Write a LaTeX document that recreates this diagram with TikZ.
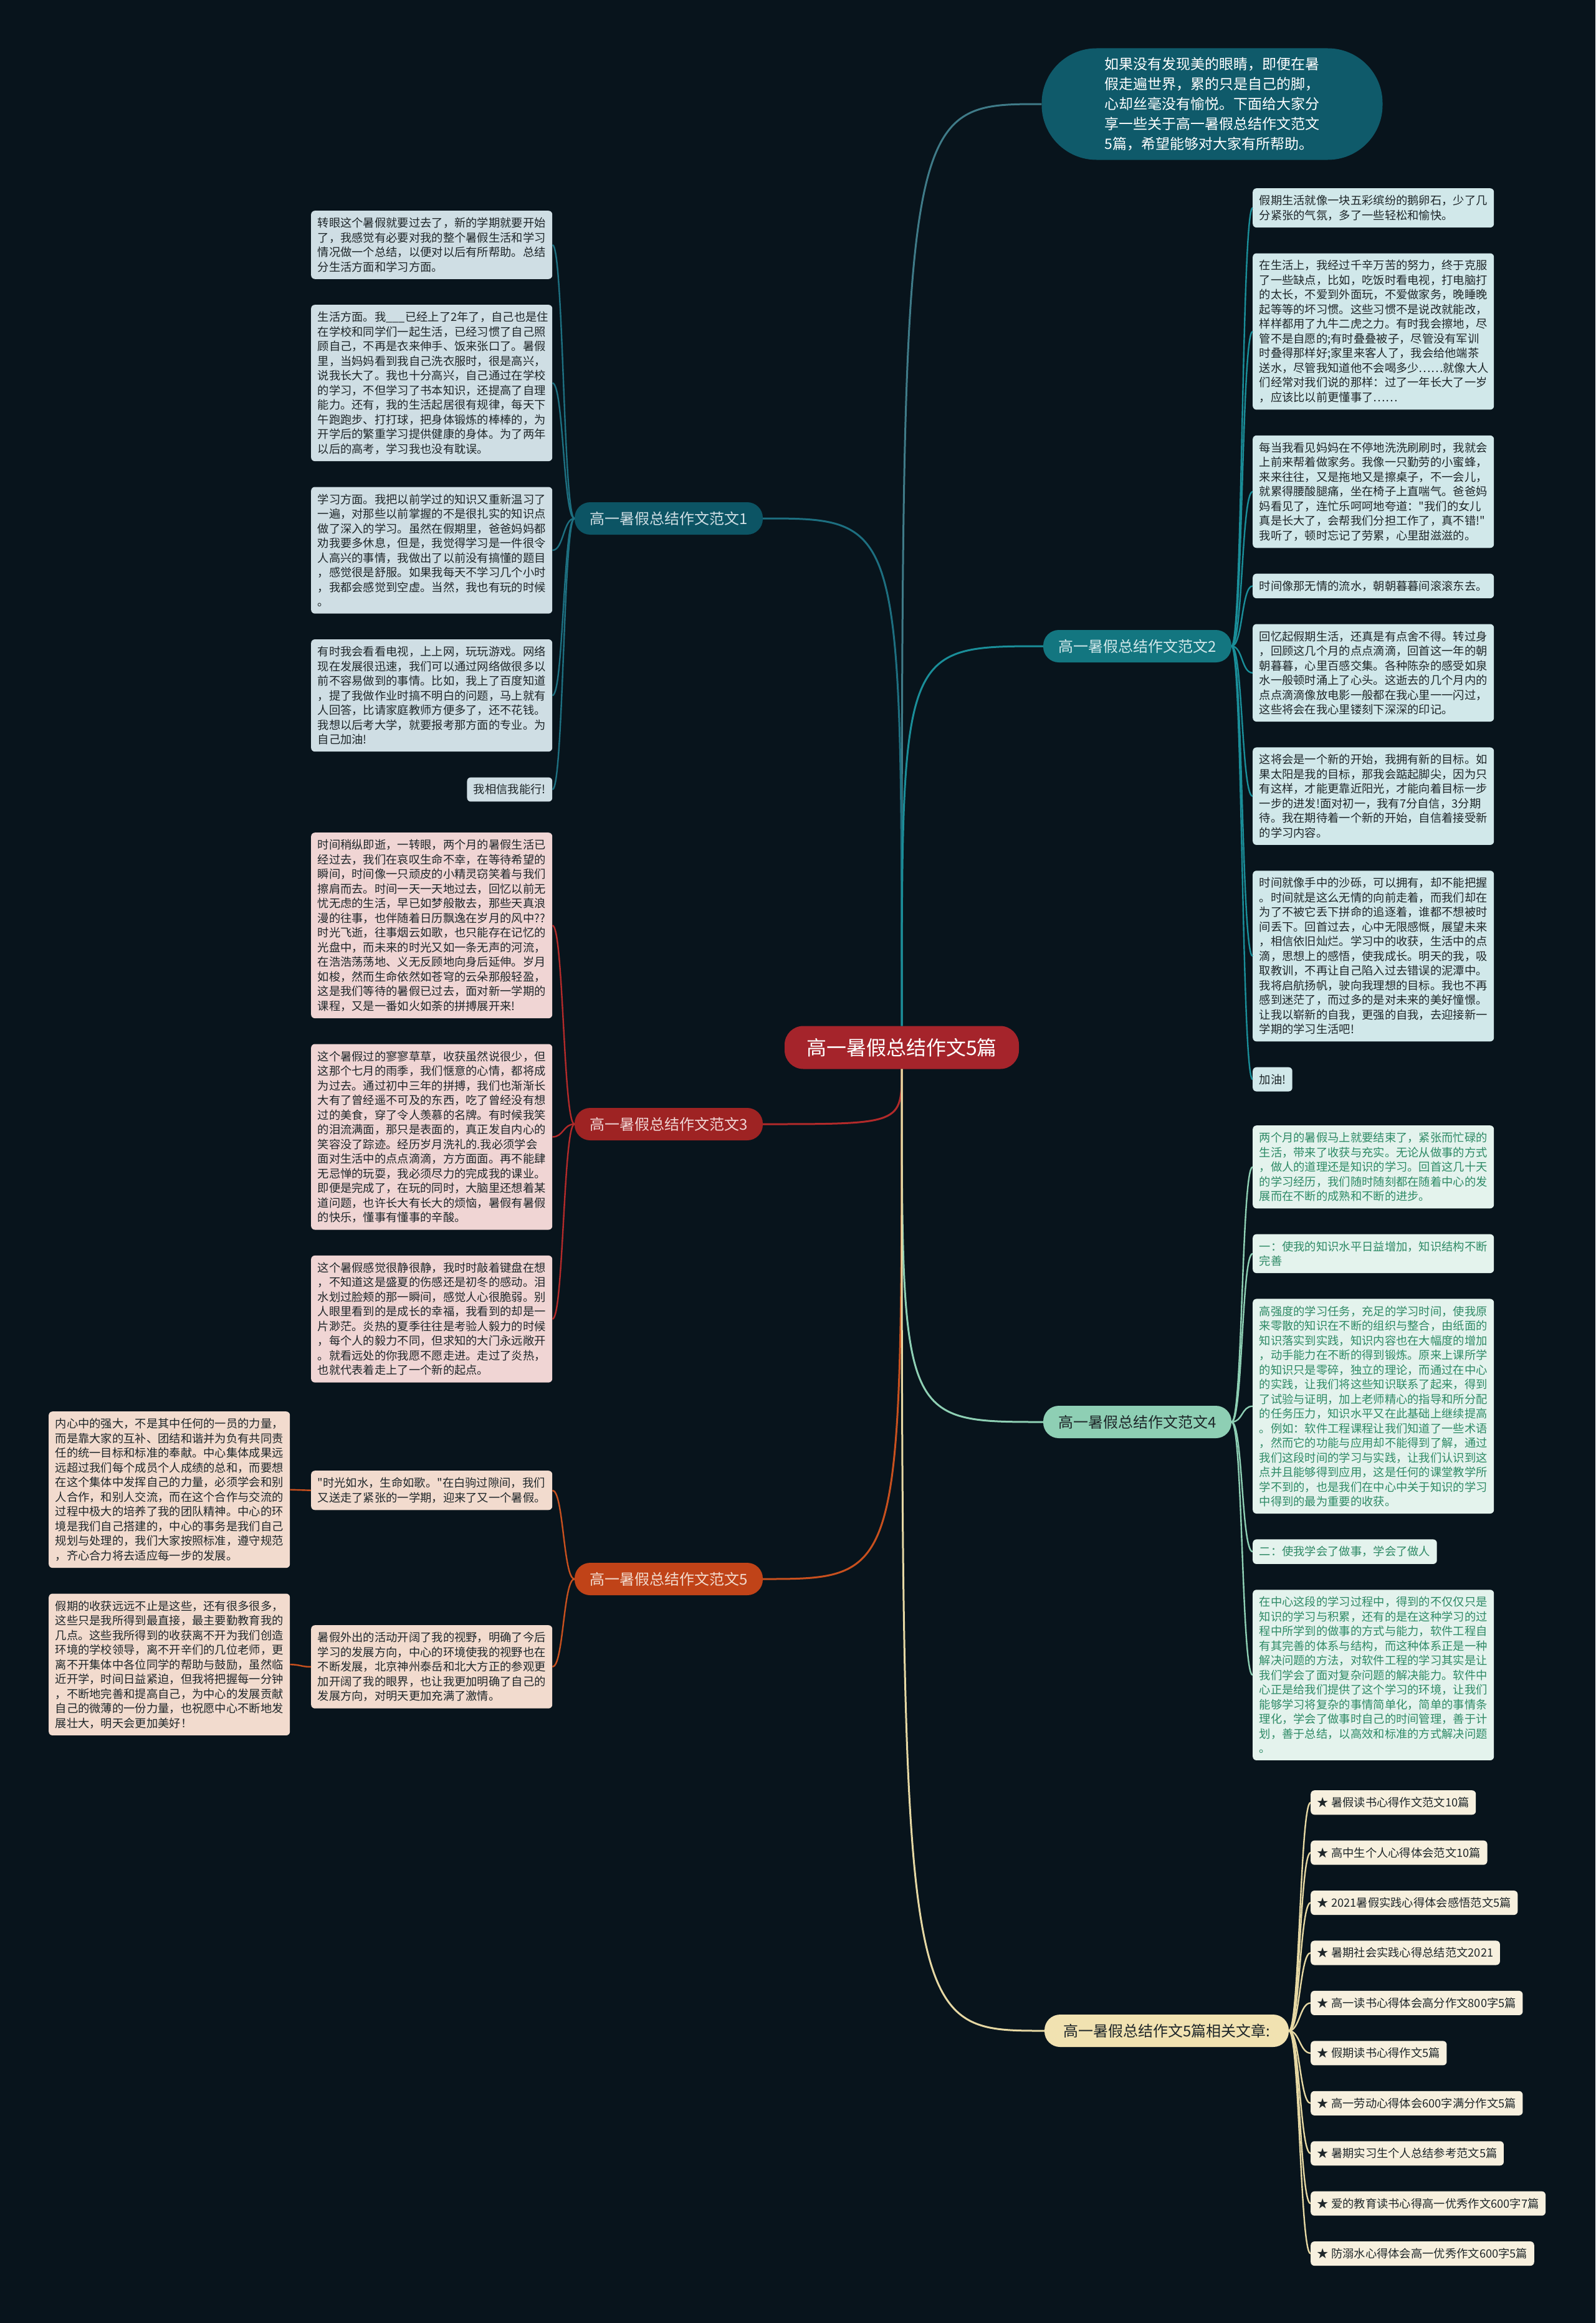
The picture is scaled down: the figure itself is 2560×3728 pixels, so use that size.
\documentclass[tikz,border=0pt]{standalone}
\usepackage{fontspec}
\newfontfamily\cjkmain{Noto Sans CJK SC}
\usepackage{xcolor}
\usetikzlibrary{positioning}
\definecolor{mapbg}{HTML}{08141C}
\definecolor{rootred}{HTML}{A5242B}
\definecolor{introteal}{HTML}{0F5A6A}
\definecolor{tealone}{HTML}{0C5464}
\definecolor{tealtwo}{HTML}{137680}
\definecolor{redthree}{HTML}{9E2323}
\definecolor{mintfour}{HTML}{8ECFB4}
\definecolor{orangefive}{HTML}{C04318}
\definecolor{sandrel}{HTML}{F1E2B1}
\definecolor{paleone}{HTML}{CFDEE4}
\definecolor{paletwo}{HTML}{D1E8EA}
\definecolor{palethree}{HTML}{F0D5D4}
\definecolor{palefour}{HTML}{E4F3ED}
\definecolor{palefive}{HTML}{F2DBCE}
\definecolor{palerel}{HTML}{F7F0DE}
\definecolor{inkdark}{HTML}{1E2629}
\definecolor{inkgreen}{HTML}{2E8A66}
\definecolor{lineone}{HTML}{1D6F80}
\definecolor{linetwo}{HTML}{1A8E99}
\definecolor{linethree}{HTML}{B22A2A}
\definecolor{linefour}{HTML}{8ED0B4}
\definecolor{linefive}{HTML}{C8501E}
\definecolor{linerel}{HTML}{E6D8A3}
\tikzset{
  mmroot/.style    = {rectangle, rounded corners=30pt, fill=rootred, text=white,
                      font=\cjkmain\fontsize{32}{36}\selectfont, minimum width=376pt,
                      minimum height=69pt, inner xsep=30pt},
  mmintro/.style   = {rectangle, rounded corners=88pt, fill=introteal, text=white,
                      align=left, font=\cjkmain\fontsize{23}{32}\selectfont,
                      minimum width=547pt, minimum height=179pt},
  mmbranch/.style  = {rectangle, rounded corners=25pt, minimum width=302pt,
                      minimum height=52pt, inner xsep=20pt,
                      font=\cjkmain\fontsize{24}{28}\selectfont},
  mmleaf/.style    = {rectangle, rounded corners=6pt, align=left,
                      inner xsep=10.5pt, inner ysep=11pt,
                      font=\cjkmain\fontsize{18.3}{23.5}\selectfont},
  fullw/.style     = {text width=366pt},
  leafone/.style   = {mmleaf, fill=paleone, text=inkdark},
  leaftwo/.style   = {mmleaf, fill=paletwo, text=inkdark},
  leafthree/.style = {mmleaf, fill=palethree, text=inkdark},
  leaffour/.style  = {mmleaf, fill=palefour, text=inkgreen},
  leaffive/.style  = {mmleaf, fill=palefive, text=inkdark},
  leafrel/.style   = {mmleaf, fill=palerel, text=inkdark},
  mmlink/.style    = {line width=2.4pt},
  rootlink/.style  = {line width=3pt},
}

\begin{document}
\begin{tikzpicture}[x=1pt, y=-1pt, node distance=41pt]
  \fill[mapbg] (0,0) rectangle (2560,3728);
  \useasboundingbox (0,0) rectangle (2560,3728);

  \node[mmroot] (root) at (1447,1681) {高一暑假总结作文5篇};
  \node[mmintro] (intro) at (1945,167) {如果没有发现美的眼睛，即便在暑\\
        假走遍世界，累的只是自己的脚，\\
        心却丝毫没有愉悦。下面给大家分\\
        享一些关于高一暑假总结作文范文\\
        5篇，希望能够对大家有所帮助。};

  \node[mmbranch, fill=tealone, text=paleone] (b1) at (1073,832) {高一暑假总结作文范文1};
  \node[mmbranch, fill=tealtwo, text=paletwo] (b2) at (1825,1037) {高一暑假总结作文范文2};
  \node[mmbranch, fill=redthree, text=palethree] (b3) at (1073,1804) {高一暑假总结作文范文3};
  \node[mmbranch, fill=mintfour, text=inkdark] (b4) at (1825,2282) {高一暑假总结作文范文4};
  \node[mmbranch, fill=orangefive, text=palefive] (b5) at (1073,2534) {高一暑假总结作文范文5};
  \node[mmbranch, fill=sandrel, text=inkdark, minimum width=392pt] (rel) at (1872,3259)
        {高一暑假总结作文5篇相关文章:};

  % 范文1
  \node[leafone, fullw, anchor=north west] (f1a) at (499,338) {转眼这个暑假就要过去了，新的学期就要开始\\
        了，我感觉有必要对我的整个暑假生活和学习\\
        情况做一个总结，以便对以后有所帮助。总结\\
        分生活方面和学习方面。};
  \node[leafone, fullw, below=of f1a.south west, anchor=north west] (f1b)
        {生活方面。我\_\_\_已经上了2年了，自己也是住\\
        在学校和同学们一起生活，已经习惯了自己照\\
        顾自己，不再是衣来伸手、饭来张口了。暑假\\
        里，当妈妈看到我自己洗衣服时，很是高兴，\\
        说我长大了。我也十分高兴，自己通过在学校\\
        的学习，不但学习了书本知识，还提高了自理\\
        能力。还有，我的生活起居很有规律，每天下\\
        午跑跑步、打打球，把身体锻炼的棒棒的，为\\
        开学后的繁重学习提供健康的身体。为了两年\\
        以后的高考，学习我也没有耽误。};
  \node[leafone, fullw, below=of f1b.south west, anchor=north west] (f1c)
        {学习方面。我把以前学过的知识又重新温习了\\
        一遍，对那些以前掌握的不是很扎实的知识点\\
        做了深入的学习。虽然在假期里，爸爸妈妈都\\
        劝我要多休息，但是，我觉得学习是一件很令\\
        人高兴的事情，我做出了以前没有搞懂的题目\\
        ，感觉很是舒服。如果我每天不学习几个小时\\
        ，我都会感觉到空虚。当然，我也有玩的时候\\
        。};
  \node[leafone, fullw, below=of f1c.south west, anchor=north west] (f1d)
        {有时我会看看电视，上上网，玩玩游戏。网络\\
        现在发展很迅速，我们可以通过网络做很多以\\
        前不容易做到的事情。比如，我上了百度知道\\
        ，提了我做作业时搞不明白的问题，马上就有\\
        人回答，比请家庭教师方便多了，还不花钱。\\
        我想以后考大学，就要报考那方面的专业。为\\
        自己加油!};
  \node[leafone, below=of f1d.south east, anchor=north east] (f1e) {我相信我能行!};

  % 范文2
  \node[leaftwo, fullw, anchor=north west] (f2a) at (2010,302)
        {假期生活就像一块五彩缤纷的鹅卵石，少了几\\
        分紧张的气氛，多了一些轻松和愉快。};
  \node[leaftwo, fullw, below=of f2a.south west, anchor=north west] (f2b)
        {在生活上，我经过千辛万苦的努力，终于克服\\
        了一些缺点，比如，吃饭时看电视，打电脑打\\
        的太长，不爱到外面玩，不爱做家务，晚睡晚\\
        起等等的坏习惯。这些习惯不是说改就能改，\\
        样样都用了九牛二虎之力。有时我会擦地，尽\\
        管不是自愿的;有时叠叠被子，尽管没有军训\\
        时叠得那样好;家里来客人了，我会给他端茶\\
        送水，尽管我知道他不会喝多少……就像大人\\
        们经常对我们说的那样：过了一年长大了一岁\\
        ，应该比以前更懂事了……};
  \node[leaftwo, fullw, below=of f2b.south west, anchor=north west] (f2c)
        {每当我看见妈妈在不停地洗洗刷刷时，我就会\\
        上前来帮着做家务。我像一只勤劳的小蜜蜂，\\
        来来往往，又是拖地又是擦桌子，不一会儿，\\
        就累得腰酸腿痛，坐在椅子上直喘气。爸爸妈\\
        妈看见了，连忙乐呵呵地夸道："我们的女儿\\
        真是长大了，会帮我们分担工作了，真不错!"\\
        我听了，顿时忘记了劳累，心里甜滋滋的。};
  \node[leaftwo, fullw, below=of f2c.south west, anchor=north west] (f2d)
        {时间像那无情的流水，朝朝暮暮间滚滚东去。};
  \node[leaftwo, fullw, below=of f2d.south west, anchor=north west] (f2e)
        {回忆起假期生活，还真是有点舍不得。转过身\\
        ，回顾这几个月的点点滴滴，回首这一年的朝\\
        朝暮暮，心里百感交集。各种陈杂的感受如泉\\
        水一般顿时涌上了心头。这逝去的几个月内的\\
        点点滴滴像放电影一般都在我心里一一闪过，\\
        这些将会在我心里镂刻下深深的印记。};
  \node[leaftwo, fullw, below=of f2e.south west, anchor=north west] (f2f)
        {这将会是一个新的开始，我拥有新的目标。如\\
        果太阳是我的目标，那我会踮起脚尖，因为只\\
        有这样，才能更靠近阳光，才能向着目标一步\\
        一步的进发!面对初一，我有7分自信，3分期\\
        待。我在期待着一个新的开始，自信着接受新\\
        的学习内容。};
  \node[leaftwo, fullw, below=of f2f.south west, anchor=north west] (f2g)
        {时间就像手中的沙砾，可以拥有，却不能把握\\
        。时间就是这么无情的向前走着，而我们却在\\
        为了不被它丢下拼命的追逐着，谁都不想被时\\
        间丢下。回首过去，心中无限感慨，展望未来\\
        ，相信依旧灿烂。学习中的收获，生活中的点\\
        滴，思想上的感悟，使我成长。明天的我，吸\\
        取教训，不再让自己陷入过去错误的泥潭中。\\
        我将启航扬帆，驶向我理想的目标。我也不再\\
        感到迷茫了，而过多的是对未来的美好憧憬。\\
        让我以崭新的自我，更强的自我，去迎接新一\\
        学期的学习生活吧!};
  \node[leaftwo, below=of f2g.south west, anchor=north west] (f2h) {加油!};

  % 范文3
  \node[leafthree, fullw, anchor=north west] (f3a) at (499,1336)
        {时间稍纵即逝，一转眼，两个月的暑假生活已\\
        经过去，我们在哀叹生命不幸，在等待希望的\\
        瞬间，时间像一只顽皮的小精灵窃笑着与我们\\
        擦肩而去。时间一天一天地过去，回忆以前无\\
        忧无虑的生活，早已如梦般散去，那些天真浪\\
        漫的往事，也伴随着日历飘逸在岁月的风中??\\
        时光飞逝，往事烟云如歌，也只能存在记忆的\\
        光盘中，而未来的时光又如一条无声的河流，\\
        在浩浩荡荡地、义无反顾地向身后延伸。岁月\\
        如梭，然而生命依然如苍穹的云朵那般轻盈，\\
        这是我们等待的暑假已过去，面对新一学期的\\
        课程，又是一番如火如荼的拼搏展开来!};
  \node[leafthree, fullw, below=of f3a.south west, anchor=north west] (f3b)
        {这个暑假过的寥寥草草，收获虽然说很少，但\\
        这那个七月的雨季，我们惬意的心情，都将成\\
        为过去。通过初中三年的拼搏，我们也渐渐长\\
        大有了曾经遥不可及的东西，吃了曾经没有想\\
        过的美食，穿了令人羡慕的名牌。有时候我笑\\
        的泪流满面，那只是表面的，真正发自内心的\\
        笑容没了踪迹。经历岁月洗礼的.我必须学会\\
        面对生活中的点点滴滴，方方面面。再不能肆\\
        无忌惮的玩耍，我必须尽力的完成我的课业。\\
        即便是完成了，在玩的同时，大脑里还想着某\\
        道问题，也许长大有长大的烦恼，暑假有暑假\\
        的快乐，懂事有懂事的辛酸。};
  \node[leafthree, fullw, below=of f3b.south west, anchor=north west] (f3c)
        {这个暑假感觉很静很静，我时时敲着键盘在想\\
        ，不知道这是盛夏的伤感还是初冬的感动。泪\\
        水划过脸颊的那一瞬间，感觉人心很脆弱。别\\
        人眼里看到的是成长的幸福，我看到的却是一\\
        片渺茫。炎热的夏季往往是考验人毅力的时候\\
        ，每个人的毅力不同，但求知的大门永远敞开\\
        。就看远处的你我愿不愿走进。走过了炎热，\\
        也就代表着走上了一个新的起点。};

  % 范文4
  \node[leaffour, fullw, anchor=north west] (f4a) at (2010,1806)
        {两个月的暑假马上就要结束了，紧张而忙碌的\\
        生活，带来了收获与充实。无论从做事的方式\\
        ，做人的道理还是知识的学习。回首这几十天\\
        的学习经历，我们随时随刻都在随着中心的发\\
        展而在不断的成熟和不断的进步。};
  \node[leaffour, fullw, below=of f4a.south west, anchor=north west] (f4b)
        {一：使我的知识水平日益增加，知识结构不断\\
        完善};
  \node[leaffour, fullw, below=of f4b.south west, anchor=north west] (f4c)
        {高强度的学习任务，充足的学习时间，使我原\\
        来零散的知识在不断的组织与整合，由纸面的\\
        知识落实到实践，知识内容也在大幅度的增加\\
        ，动手能力在不断的得到锻炼。原来上课所学\\
        的知识只是零碎，独立的理论，而通过在中心\\
        的实践，让我们将这些知识联系了起来，得到\\
        了试验与证明，加上老师精心的指导和所分配\\
        的任务压力，知识水平又在此基础上继续提高\\
        。例如：软件工程课程让我们知道了一些术语\\
        ，然而它的功能与应用却不能得到了解，通过\\
        我们这段时间的学习与实践，让我们认识到这\\
        点并且能够得到应用，这是任何的课堂教学所\\
        学不到的，也是我们在中心中关于知识的学习\\
        中得到的最为重要的收获。};
  \node[leaffour, below=of f4c.south west, anchor=north west] (f4d)
        {二：使我学会了做事，学会了做人};
  \node[leaffour, fullw, below=of f4d.south west, anchor=north west] (f4e)
        {在中心这段的学习过程中，得到的不仅仅只是\\
        知识的学习与积累，还有的是在这种学习的过\\
        程中所学到的做事的方式与能力，软件工程自\\
        有其完善的体系与结构，而这种体系正是一种\\
        解决问题的方法，对软件工程的学习其实是让\\
        我们学会了面对复杂问题的解决能力。软件中\\
        心正是给我们提供了这个学习的环境，让我们\\
        能够学习将复杂的事情简单化，简单的事情条\\
        理化，学会了做事时自己的时间管理，善于计\\
        划，善于总结，以高效和标准的方式解决问题\\
        。};

  % 范文5
  \node[leaffive, fullw, anchor=north west] (f5a) at (499,2360)
        {"时光如水，生命如歌。"在白驹过隙间，我们\\
        又送走了紧张的一学期，迎来了又一个暑假。};
  \node[leaffive, fullw, anchor=north west] (f5b) at (499,2608)
        {暑假外出的活动开阔了我的视野，明确了今后\\
        学习的发展方向，中心的环境使我的视野也在\\
        不断发展，北京神州泰岳和北大方正的参观更\\
        加开阔了我的眼界，也让我更加明确了自己的\\
        发展方向，对明天更加充满了激情。};
  \node[leaffive, fullw, anchor=north west] (f5c) at (78,2265)
        {内心中的强大，不是其中任何的一员的力量，\\
        而是靠大家的互补、团结和谐并为负有共同责\\
        任的统一目标和标准的奉献。中心集体成果远\\
        远超过我们每个成员个人成绩的总和，而要想\\
        在这个集体中发挥自己的力量，必须学会和别\\
        人合作，和别人交流，而在这个合作与交流的\\
        过程中极大的培养了我的团队精神。中心的环\\
        境是我们自己搭建的，中心的事务是我们自己\\
        规划与处理的，我们大家按照标准，遵守规范\\
        ，齐心合力将去适应每一步的发展。};
  \node[leaffive, fullw, below=of f5c.south west, anchor=north west] (f5d)
        {假期的收获远远不止是这些，还有很多很多，\\
        这些只是我所得到最直接，最主要勤教育我的\\
        几点。这些我所得到的收获离不开为我们创造\\
        环境的学校领导，离不开辛们的几位老师，更\\
        离不开集体中各位同学的帮助与鼓励，虽然临\\
        近开学，时间日益紧迫，但我将把握每一分钟\\
        ，不断地完善和提高自己，为中心的发展贡献\\
        自己的微薄的一份力量，也祝愿中心不断地发\\
        展壮大，明天会更加美好！};

  % 相关文章
  \node[leafrel, anchor=north west] (r1) at (2103,2873) {★ 暑假读书心得作文范文10篇};
  \node[leafrel, below=of r1.south west, anchor=north west] (r2) {★ 高中生个人心得体会范文10篇};
  \node[leafrel, below=of r2.south west, anchor=north west] (r3) {★ 2021暑假实践心得体会感悟范文5篇};
  \node[leafrel, below=of r3.south west, anchor=north west] (r4) {★ 暑期社会实践心得总结范文2021};
  \node[leafrel, below=of r4.south west, anchor=north west] (r5) {★ 高一读书心得体会高分作文800字5篇};
  \node[leafrel, below=of r5.south west, anchor=north west] (r6) {★ 假期读书心得作文5篇};
  \node[leafrel, below=of r6.south west, anchor=north west] (r7) {★ 高一劳动心得体会600字满分作文5篇};
  \node[leafrel, below=of r7.south west, anchor=north west] (r8) {★ 暑期实习生个人总结参考范文5篇};
  \node[leafrel, below=of r8.south west, anchor=north west] (r9) {★ 爱的教育读书心得高一优秀作文600字7篇};
  \node[leafrel, below=of r9.south west, anchor=north west] (r10) {★ 防溺水心得体会高一优秀作文600字5篇};

  % root to branches
  \draw[rootlink, introteal!80!white] (root.north) .. controls (root.north |- intro.west) .. (intro.west);
  \draw[rootlink, lineone] (root.north) .. controls (root.north |- b1.east) .. (b1.east);
  \draw[rootlink, linetwo] (root.north) .. controls (root.north |- b2.west) .. (b2.west);
  \draw[rootlink, linethree] (root.south) .. controls (root.south |- b3.east) .. (b3.east);
  \draw[rootlink, linefour] (root.south) .. controls (root.south |- b4.west) .. (b4.west);
  \draw[rootlink, linefive] (root.south) .. controls (root.south |- b5.east) .. (b5.east);
  \draw[rootlink, linerel] (root.south) .. controls (root.south |- rel.west) .. (rel.west);

  % branches to leaves
  \draw[mmlink, lineone] (b1.west) .. controls +(-18,0) and +(18,0) .. (f1a.east);
  \draw[mmlink, lineone] (b1.west) .. controls +(-18,0) and +(18,0) .. (f1b.east);
  \draw[mmlink, lineone] (b1.west) .. controls +(-18,0) and +(18,0) .. (f1c.east);
  \draw[mmlink, lineone] (b1.west) .. controls +(-18,0) and +(18,0) .. (f1d.east);
  \draw[mmlink, lineone] (b1.west) .. controls +(-18,0) and +(18,0) .. (f1e.east);

  \draw[mmlink, linetwo] (b2.east) .. controls +(18,0) and +(-18,0) .. (f2a.west);
  \draw[mmlink, linetwo] (b2.east) .. controls +(18,0) and +(-18,0) .. (f2b.west);
  \draw[mmlink, linetwo] (b2.east) .. controls +(18,0) and +(-18,0) .. (f2c.west);
  \draw[mmlink, linetwo] (b2.east) .. controls +(18,0) and +(-18,0) .. (f2d.west);
  \draw[mmlink, linetwo] (b2.east) .. controls +(18,0) and +(-18,0) .. (f2e.west);
  \draw[mmlink, linetwo] (b2.east) .. controls +(18,0) and +(-18,0) .. (f2f.west);
  \draw[mmlink, linetwo] (b2.east) .. controls +(18,0) and +(-18,0) .. (f2g.west);
  \draw[mmlink, linetwo] (b2.east) .. controls +(18,0) and +(-18,0) .. (f2h.west);

  \draw[mmlink, linethree] (b3.west) .. controls +(-18,0) and +(18,0) .. (f3a.east);
  \draw[mmlink, linethree] (b3.west) .. controls +(-18,0) and +(18,0) .. (f3b.east);
  \draw[mmlink, linethree] (b3.west) .. controls +(-18,0) and +(18,0) .. (f3c.east);

  \draw[mmlink, linefour] (b4.east) .. controls +(18,0) and +(-18,0) .. (f4a.west);
  \draw[mmlink, linefour] (b4.east) .. controls +(18,0) and +(-18,0) .. (f4b.west);
  \draw[mmlink, linefour] (b4.east) .. controls +(18,0) and +(-18,0) .. (f4c.west);
  \draw[mmlink, linefour] (b4.east) .. controls +(18,0) and +(-18,0) .. (f4d.west);
  \draw[mmlink, linefour] (b4.east) .. controls +(18,0) and +(-18,0) .. (f4e.west);

  \draw[mmlink, linefive] (b5.west) .. controls +(-18,0) and +(18,0) .. (f5a.east);
  \draw[mmlink, linefive] (b5.west) .. controls +(-18,0) and +(18,0) .. (f5b.east);
  \draw[mmlink, linefive] (f5a.west) .. controls +(-16,0) and +(16,0) .. (f5c.east);
  \draw[mmlink, linefive] (f5b.west) .. controls +(-16,0) and +(16,0) .. (f5d.east);

  \draw[mmlink, linerel] (rel.east) .. controls +(17,0) and +(-17,0) .. (r1.west);
  \draw[mmlink, linerel] (rel.east) .. controls +(17,0) and +(-17,0) .. (r2.west);
  \draw[mmlink, linerel] (rel.east) .. controls +(17,0) and +(-17,0) .. (r3.west);
  \draw[mmlink, linerel] (rel.east) .. controls +(17,0) and +(-17,0) .. (r4.west);
  \draw[mmlink, linerel] (rel.east) .. controls +(17,0) and +(-17,0) .. (r5.west);
  \draw[mmlink, linerel] (rel.east) .. controls +(17,0) and +(-17,0) .. (r6.west);
  \draw[mmlink, linerel] (rel.east) .. controls +(17,0) and +(-17,0) .. (r7.west);
  \draw[mmlink, linerel] (rel.east) .. controls +(17,0) and +(-17,0) .. (r8.west);
  \draw[mmlink, linerel] (rel.east) .. controls +(17,0) and +(-17,0) .. (r9.west);
  \draw[mmlink, linerel] (rel.east) .. controls +(17,0) and +(-17,0) .. (r10.west);
\end{tikzpicture}
\end{document}
